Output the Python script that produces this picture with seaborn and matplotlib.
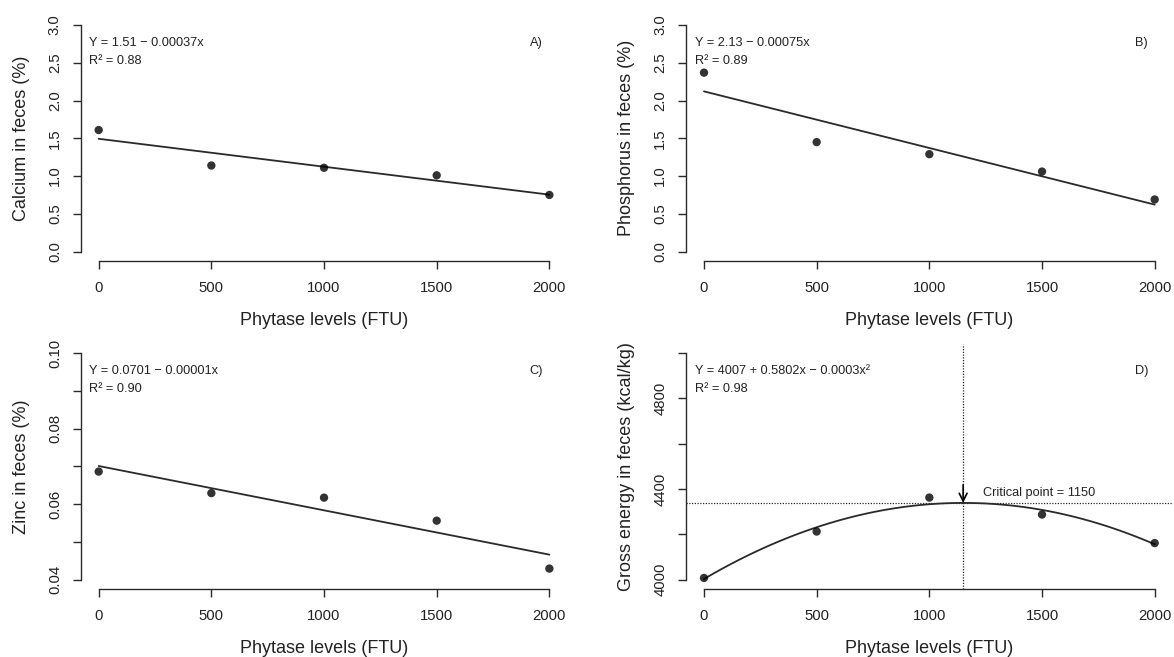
import numpy as np
import pandas as pd
import matplotlib
matplotlib.use("Agg")
import matplotlib.pyplot as plt
import seaborn as sns

# Phytase supplementation levels (FTU) and mean fecal contents
levels = [0, 500, 1000, 1500, 2000]
calcium = [1.61, 1.14, 1.11, 1.01, 0.75]          # %
phosphorus = [2.37, 1.45, 1.29, 1.06, 0.69]       # %
zinc = [0.0686, 0.0629, 0.0617, 0.0556, 0.0429]   # %
energy = [4007, 4212, 4362, 4287, 4161]           # kcal/kg

critical_level = 1150

x_ticks = [0, 500, 1000, 1500, 2000]
ca_ticks = [0.0, 0.5, 1.0, 1.5, 2.0, 2.5, 3.0]
ca_labels = ["0.0", "0.5", "1.0", "1.5", "2.0", "2.5", "3.0"]
zn_ticks = [0.04, 0.05, 0.06, 0.07, 0.08, 0.09, 0.10]
zn_labels = ["0.04", "", "0.06", "", "0.08", "", "0.10"]
ge_ticks = [4000, 4200, 4400, 4600, 4800, 5000]
ge_labels = ["4000", "", "4400", "", "4800", ""]

panels = [
    dict(y=calcium, ylabel="Calcium in feces (%)", ticks=ca_ticks, labels=ca_labels,
         eq=["Y = 1.51 \u2212 0.00037x", "R\u00b2 = 0.88"], tag="A)", order=1),
    dict(y=phosphorus, ylabel="Phosphorus in feces (%)", ticks=ca_ticks, labels=ca_labels,
         eq=["Y = 2.13 \u2212 0.00075x", "R\u00b2 = 0.89"], tag="B)", order=1),
    dict(y=zinc, ylabel="Zinc in feces (%)", ticks=zn_ticks, labels=zn_labels,
         eq=["Y = 0.0701 \u2212 0.00001x", "R\u00b2 = 0.90"], tag="C)", order=1),
    dict(y=energy, ylabel="Gross energy in feces (kcal/kg)", ticks=ge_ticks, labels=ge_labels,
         eq=["Y = 4007 + 0.5802x \u2212 0.0003x\u00b2", "R\u00b2 = 0.98"], tag="D)", order=2),
]

sns.set_style("ticks")
plt.rcParams["font.family"] = ["Liberation Sans", "DejaVu Sans"]
plt.rcParams["text.color"] = "#222222"
plt.rcParams["axes.labelcolor"] = "#222222"

INK = "#2a2a2a"

fig = plt.figure(figsize=(11.74, 6.57), dpi=100)
lefts = [0.0687, 0.5843]
bottoms = [0.6033, 0.1041]
w, h = 0.4146, 0.3723

for i, p in enumerate(panels):
    ax = fig.add_axes([lefts[i % 2], bottoms[i // 2], w, h])
    df = pd.DataFrame({"level": levels, "value": p["y"]})
    sns.regplot(data=df, x="level", y="value", ax=ax, ci=None, order=p["order"],
                color="black",
                scatter_kws=dict(s=36, color="black", edgecolor="none", zorder=3),
                line_kws=dict(color=INK, lw=1.3))

    lo, hi = p["ticks"][0], p["ticks"][-1]
    pad = 0.04 * (hi - lo)
    ax.set_ylim(lo - pad, hi + pad)
    ax.set_xlim(-80, 2080)

    ax.set_xticks(x_ticks)
    ax.set_xticklabels([str(t) for t in x_ticks])
    ax.set_yticks(p["ticks"])
    ax.set_yticklabels(p["labels"])

    for s in ["top", "right"]:
        ax.spines[s].set_visible(False)
    ax.spines["left"].set_bounds(lo, hi)
    ax.spines["bottom"].set_bounds(0, 2000)
    for s in ["left", "bottom"]:
        ax.spines[s].set_color(INK)
        ax.spines[s].set_linewidth(1.0)

    ax.tick_params(axis="both", direction="out", length=5.5, width=1.0,
                   color=INK, labelsize=10.7, labelcolor="#222222")
    ax.tick_params(axis="x", pad=9)
    ax.tick_params(axis="y", pad=8, labelrotation=90)
    for lab in ax.get_yticklabels():
        lab.set_va("center")

    ax.set_xlabel("Phytase levels (FTU)", fontsize=13)
    ax.set_ylabel(p["ylabel"], fontsize=13)
    ax.xaxis.set_label_coords(0.5, -0.21)
    ax.yaxis.set_label_coords(-0.105, 0.5)

    ax.text(0.018, 0.89, p["eq"][0], transform=ax.transAxes, fontsize=9.2,
            ha="left", va="center")
    ax.text(0.018, 0.818, p["eq"][1], transform=ax.transAxes, fontsize=9.2,
            ha="left", va="center")
    ax.text(0.936, 0.89, p["tag"], transform=ax.transAxes, fontsize=9.2,
            ha="center", va="center")

    if p["order"] == 2:
        coefs = np.polyfit(levels, p["y"], 2)
        crit_y = np.polyval(coefs, critical_level)
        ax.axvline(critical_level, color=INK, lw=0.9, ls=(0, (1, 1.2)))
        ax.axhline(crit_y, color=INK, lw=0.9, ls=(0, (1, 1.2)))
        ax.annotate("", xy=(critical_level, crit_y), xytext=(0, 13),
                    textcoords="offset points",
                    arrowprops=dict(arrowstyle="->", color="black", lw=1.2,
                                    mutation_scale=14, shrinkA=0, shrinkB=0))
        ax.annotate(f"Critical point = {critical_level}", xy=(critical_level, crit_y),
                    xytext=(14, 3), textcoords="offset points", fontsize=9.2,
                    ha="left", va="bottom")

fig.savefig("out.png", dpi=100, facecolor="white")
